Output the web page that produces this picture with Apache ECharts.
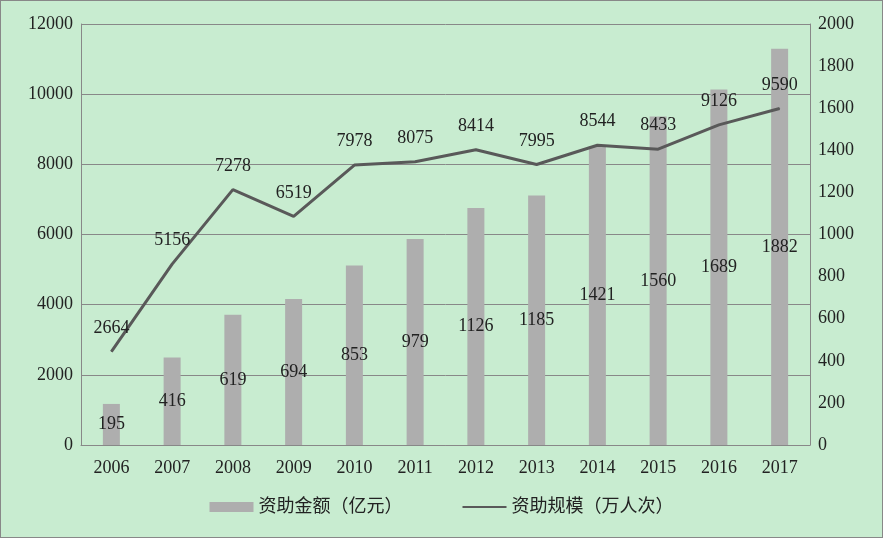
<!DOCTYPE html>
<html><head><meta charset="utf-8">
<script src="https://cdn.jsdelivr.net/npm/echarts@6/dist/echarts.min.js"></script>
<style>html,body{margin:0;padding:0;background:#c8ecd0}#c{width:883px;height:538px;box-sizing:border-box;border:1px solid #888}</style>
</head><body><div id="c"></div>
<script>
var years = ['2006','2007','2008','2009','2010','2011','2012','2013','2014','2015','2016','2017'];
var amount = [195,416,619,694,853,979,1126,1185,1421,1560,1689,1882];   // 资助金额（亿元）
var scale = [2664,5156,7278,6519,7978,8075,8414,7995,8544,8433,9126,9590]; // 资助规模（万人次）

var chart = echarts.init(document.getElementById('c'));
var font = 'Liberation Serif, Noto Sans CJK SC, serif';
var plain = function (v) { return String(v); };
chart.setOption({
  backgroundColor: '#c8ecd0',
  textStyle: {fontFamily: font},
  grid: {left: 80, right: 72, top: 23, bottom: 92},
  legend: {
    bottom: 16, itemGap: 60, itemWidth: 44, itemHeight: 10,
    textStyle: {fontSize: 18, color: '#222', fontFamily: font},
    data: [{name: '资助金额（亿元）', icon: 'rect'},
           {name: '资助规模（万人次）', icon: 'path://M0,4 L44,4 L44,6 L0,6 Z', itemStyle: {color: '#595959'}}]
  },
  xAxis: {
    type: 'category', data: years,
    axisLine: {lineStyle: {color: '#888'}}, axisTick: {show: false},
    axisLabel: {fontSize: 18, color: '#222', margin: 14}
  },
  yAxis: [
    {type: 'value', min: 0, max: 12000, interval: 2000,
     axisLine: {show: true, lineStyle: {color: '#888'}},
     axisLabel: {fontSize: 18, color: '#222', formatter: plain},
     splitLine: {lineStyle: {color: '#888'}}},
    {type: 'value', min: 0, max: 2000, interval: 200,
     axisLine: {show: true, lineStyle: {color: '#888'}},
     axisLabel: {fontSize: 18, color: '#222', formatter: plain},
     splitLine: {show: false}}
  ],
  series: [
    {name: '资助金额（亿元）', type: 'bar', yAxisIndex: 1, data: amount, barWidth: 17,
     itemStyle: {color: '#aeaeae'},
     label: {show: true, position: 'inside', color: '#222', fontSize: 18, fontFamily: font}},
    {name: '资助规模（万人次）', type: 'line', yAxisIndex: 0, data: scale,
     symbol: 'circle', symbolSize: 1, showSymbol: true,
     lineStyle: {color: '#595959', width: 3}, itemStyle: {color: '#595959'},
     label: {show: true, position: 'top', distance: 14, color: '#222', fontSize: 18, fontFamily: font}}
  ]
});
</script></body></html>
